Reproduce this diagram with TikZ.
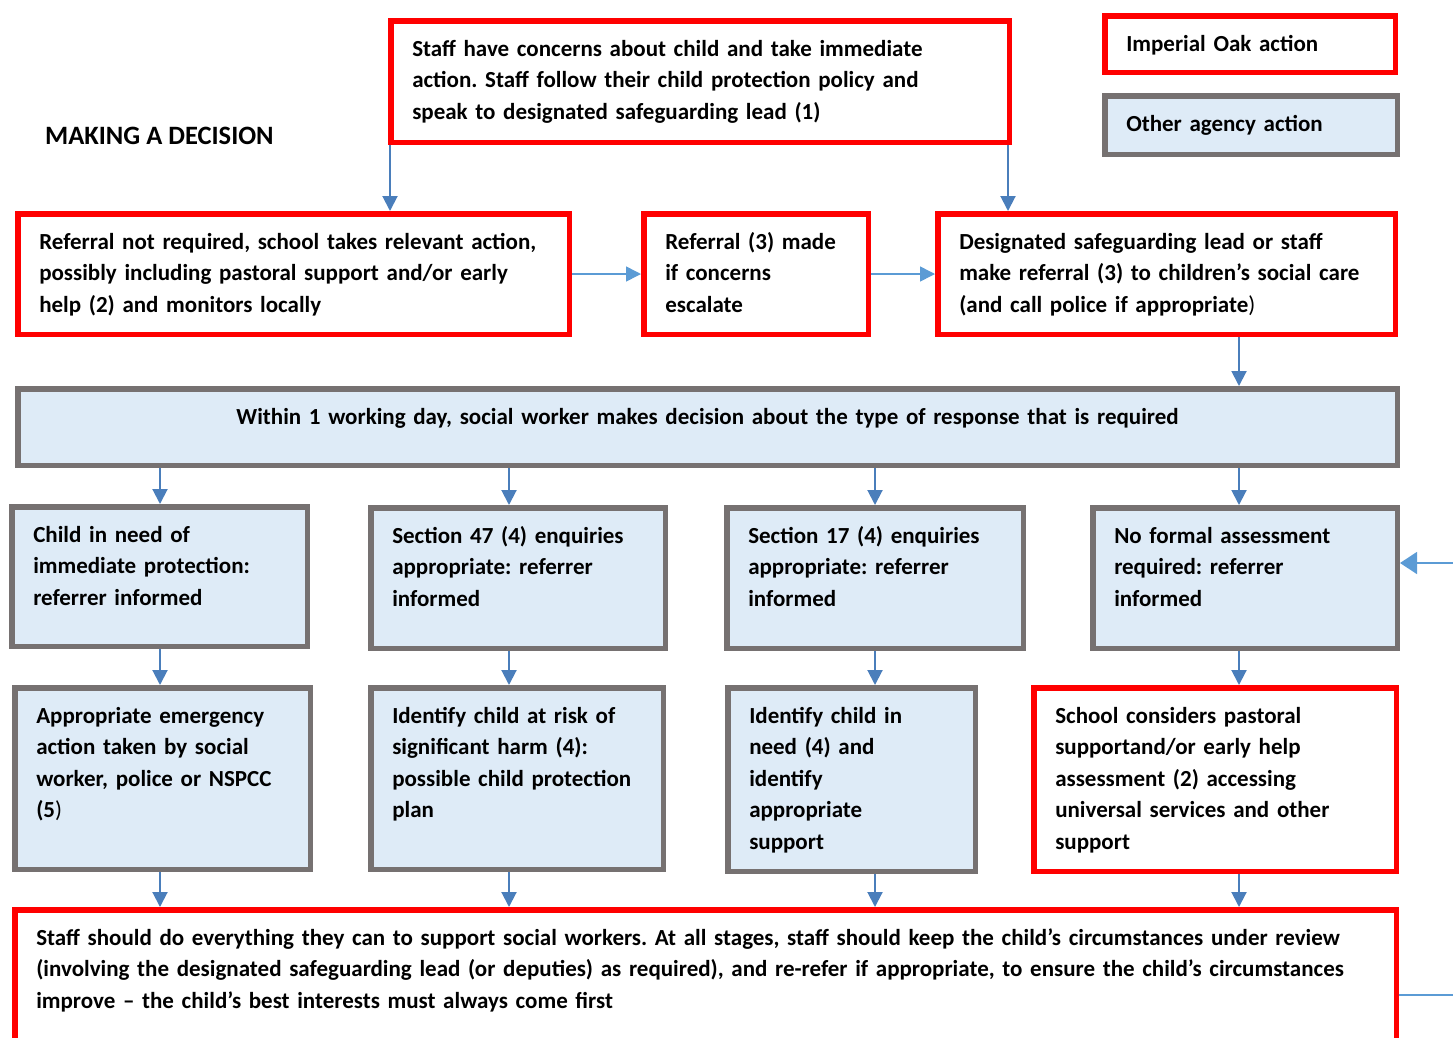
\documentclass[tikz,border=0pt]{standalone}
\usepackage{fontspec}
\setmainfont{Carlito}
\usetikzlibrary{arrows.meta}

\definecolor{oakred}{HTML}{FF0000}
\definecolor{agencygrey}{HTML}{767171}
\definecolor{agencyfill}{HTML}{DEEBF7}
\definecolor{arrowblue}{HTML}{4A7EBB}
\definecolor{linkblue}{HTML}{5B9BD5}

\tikzset{
  box/.style={draw, line width=5.5pt, anchor=north west, align=left,
    inner xsep=21.5pt, inner ysep=18.5pt, text height=17pt},
  oak/.style={box, draw=oakred, fill=white},
  agency/.style={box, draw=agencygrey, fill=agencyfill},
  down/.style={-{Triangle[width=15pt,length=15pt]}, line width=2pt, draw=arrowblue},
  side/.style={-{Triangle[width=15pt,length=15pt]}, line width=1.5pt, draw=linkblue},
}

\begin{document}
\frenchspacing
\begin{tikzpicture}[x=1pt, y=-1pt, font=\fontsize{23}{31.5}\selectfont\bfseries]
    \useasboundingbox (0,0) rectangle (1453,1037);

    % key
    \node[oak, text width=247.5pt, text depth=2.5pt] at (1102,13) (keyoak) {Imperial Oak action};
    \node[agency, text width=249.5pt, text depth=4.5pt] at (1102,93) (keyagency) {Other agency action};

    \node[anchor=west, inner sep=0pt, font=\fontsize{26.5}{31.5}\selectfont\bfseries] at (45,136) (title) {MAKING A DECISION};

    % first steps
    \node[oak, text width=575.5pt, text depth=67.5pt] at (388,18) (top)
      {Staff have concerns about child and take immediate\\ action. Staff follow their child protection policy and\\ speak to designated safeguarding lead (1)};
    \node[oak, text width=508.5pt, text depth=66.5pt] at (15,211) (notreq)
      {Referral not required, school takes relevant action,\\ possibly including pastoral support and/or early\\ help (2) and monitors locally};
    \node[oak, text width=181.5pt, text depth=66.5pt] at (641,211) (made)
      {Referral (3) made\\ if concerns\\ escalate};
    \node[oak, text width=414.5pt, text depth=66.5pt] at (935,211) (dsl)
      {Designated safeguarding lead or staff\\ make referral (3) to children’s social care\\ (and call police if appropriate{\mdseries )}};

    \node[agency, align=center, text width=1336.5pt, text depth=22.5pt] at (15,386) (wide)
      {Within 1 working day, social worker makes decision about the type of response that is required};

    % social worker decision
    \node[agency, text width=252.5pt, text depth=85.5pt] at (9,504) (r11)
      {Child in need of\\ immediate protection:\\ referrer informed};
    \node[agency, text width=251.5pt, text depth=86.5pt] at (368,505) (r12)
      {Section 47 (4) enquiries\\ appropriate: referrer\\ informed};
    \node[agency, text width=253.5pt, text depth=86.5pt] at (724,505) (r13)
      {Section 17 (4) enquiries\\ appropriate: referrer\\ informed};
    \node[agency, text width=261.5pt, text depth=86.5pt] at (1090,505) (r14)
      {No formal assessment\\ required: referrer\\ informed};

    \node[agency, text width=252.5pt, text depth=127.5pt] at (12,685) (r21)
      {Appropriate emergency\\ action taken by social\\ worker, police or NSPCC\\ (5{\mdseries )}};
    \node[agency, text width=249.5pt, text depth=127.5pt] at (368,685) (r22)
      {Identify child at risk of\\ significant harm (4):\\ possible child protection\\ plan};
    \node[agency, text width=204.5pt, text depth=129.5pt] at (725,685) (r23)
      {Identify child in\\ need (4) and\\ identify\\ appropriate\\ support};
    \node[oak, text width=319.5pt, text depth=129.5pt] at (1031,685) (r24)
      {School considers pastoral\\ supportand/or early help\\ assessment (2) accessing\\ universal services and other\\ support};

    \node[oak, text width=1338.5pt, text depth=95.5pt] at (12,907) (foot)
      {Staff should do everything they can to support social workers. At all stages, staff should keep the child’s circumstances under review\\ (involving the designated safeguarding lead (or deputies) as required), and re-refer if appropriate, to ensure the child’s circumstances\\ improve – the child’s best interests must always come first};

    % arrow columns
    \coordinate (tapl) at (390,0);
    \coordinate (tapr) at (1008,0);
    \coordinate (col1) at (160,0);
    \coordinate (col2) at (509,0);
    \coordinate (col3) at (875,0);
    \coordinate (col4) at (1239,0);
    \coordinate (feed) at (1453,563);
    \coordinate (tail) at (1453,995);

    \draw[down] (top.south -| tapl) -- (notreq.north -| tapl);
    \draw[down] (top.south -| tapr) -- (dsl.north -| tapr);
    \draw[side] (notreq.east) -- (made.west);
    \draw[side] (made.east) -- (dsl.west);
    \draw[down] (dsl.south -| col4) -- (wide.north -| col4);

    \foreach \c in {1,2,3,4} {
      \draw[down] (wide.south -| col\c) -- (r1\c.north -| col\c);
      \draw[down] (r1\c.south -| col\c) -- (r2\c.north -| col\c);
      \draw[down] (r2\c.south -| col\c) -- (foot.north -| col\c);
    }

    \draw[side, -{Triangle[width=22pt,length=17pt]}] (feed) -- (r14.east |- feed);
    \draw[linkblue, line width=1.5pt] (foot.east |- tail) -- (tail);

\end{tikzpicture}
\end{document}
